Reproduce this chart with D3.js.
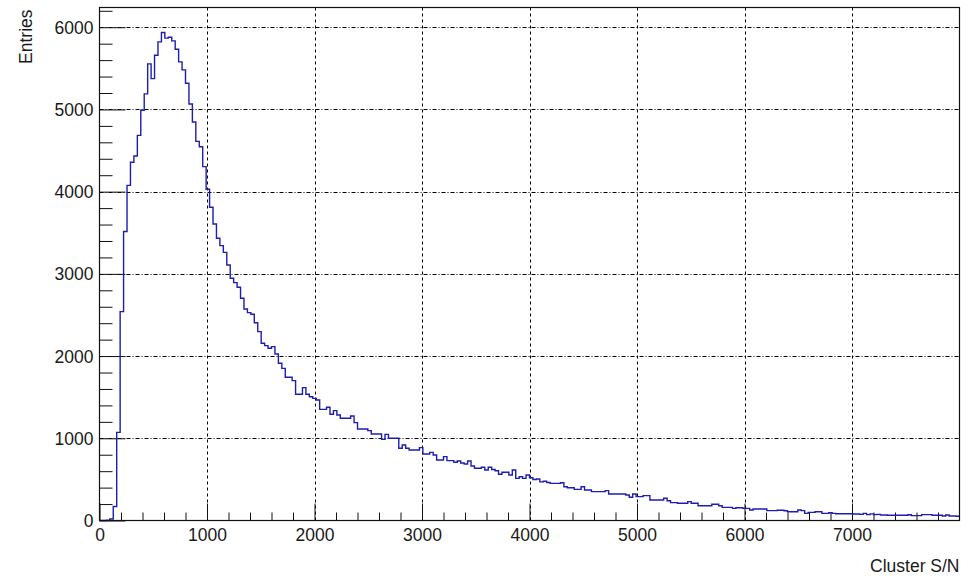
<!DOCTYPE html>
<html>
<head>
<meta charset="utf-8">
<script src="https://cdn.jsdelivr.net/npm/d3@7"></script>
<style>
  html, body { margin: 0; padding: 0; background: #fff; }
  svg { display: block; }
  text { font-family: "Liberation Sans", Arial, sans-serif; fill: #1a1a1a; }
</style>
</head>
<body>
<svg id="chart" width="969" height="576"></svg>
<script>
// Histogram of cluster signal-to-noise: 250 bins of width 32 over [0, 8000)
const binWidth = 32;
const xRange = [0, 8000];
const counts = [
  0, 0, 3, 18, 170, 1072, 2541, 3516, 4076, 4357,
  4434, 4685, 4990, 5189, 5554, 5375, 5660, 5822, 5936, 5867,
  5879, 5834, 5733, 5578, 5481, 5319, 5067, 4848, 4612, 4547,
  4305, 4029, 3810, 3607, 3433, 3343, 3262, 3108, 2946, 2893,
  2837, 2703, 2573, 2528, 2508, 2406, 2297, 2156, 2127, 2095,
  2115, 2026, 1912, 1851, 1742, 1742, 1701, 1535, 1535, 1616,
  1535, 1506, 1486, 1466, 1352, 1352, 1377, 1292, 1336, 1283,
  1243, 1243, 1243, 1271, 1190, 1113, 1113, 1113, 1093, 1052,
  1052, 1052, 987, 1048, 1000, 1000, 1000, 878, 918, 878,
  858, 858, 858, 886, 809, 809, 829, 797, 736, 736,
  777, 728, 728, 708, 724, 700, 687, 724, 663, 635,
  635, 647, 614, 647, 620, 606, 562, 586, 586, 553,
  614, 513, 533, 513, 553, 520, 498, 505, 470, 478,
  462, 452, 452, 452, 460, 411, 399, 399, 379, 379,
  411, 371, 371, 351, 351, 351, 351, 363, 322, 322,
  322, 322, 322, 310, 282, 322, 290, 290, 302, 302,
  249, 249, 249, 249, 270, 241, 217, 217, 209, 209,
  209, 229, 209, 209, 180, 180, 180, 180, 197, 197,
  180, 160, 160, 160, 148, 156, 156, 148, 148, 128,
  140, 140, 140, 140, 120, 120, 120, 125, 125, 118,
  107, 107, 107, 128, 120, 87, 99, 99, 107, 107,
  87, 87, 95, 87, 83, 83, 83, 83, 83, 79,
  79, 75, 87, 71, 80, 71, 75, 67, 67, 63,
  63, 63, 63, 63, 63, 70, 59, 59, 59, 71,
  71, 71, 63, 63, 63, 55, 67, 55, 55, 51
];
const xMajorTicks = [0, 1000, 2000, 3000, 4000, 5000, 6000, 7000];
const yMajorTicks = [0, 1000, 2000, 3000, 4000, 5000, 6000];
const xTitle = "Cluster S/N";
const yTitle = "Entries";

const yMax = 6240;
const frame = { left: 99.5, right: 959.5, top: 7.5, bottom: 520.5 };
const lineColor = "#1d1db0";
const fontSize = 17.5;

const svg = d3.select("#chart");
const x = d3.scaleLinear().domain(xRange).range([frame.left, frame.right]);
const y = d3.scaleLinear().domain([0, yMax]).range([frame.bottom, frame.top]);

// grid
const grid = svg.append("g").attr("stroke", "#000").attr("stroke-width", 1).attr("fill", "none");
grid.selectAll("line.vx").data(xMajorTicks.filter(d => d > 0)).join("line")
  .attr("x1", d => Math.round(x(d)) + 0.5).attr("x2", d => Math.round(x(d)) + 0.5)
  .attr("y1", frame.top).attr("y2", frame.bottom)
  .attr("stroke-dasharray", "3,3");
grid.selectAll("line.hy").data(yMajorTicks.filter(d => d > 0)).join("line")
  .attr("x1", frame.left).attr("x2", frame.right)
  .attr("y1", d => Math.round(y(d)) + 0.5).attr("y2", d => Math.round(y(d)) + 0.5)
  .attr("stroke-dasharray", "4,2,1,2");

// minor tick values (5 subdivisions per major interval)
const xMinor = d3.range(0, xRange[1] + 1, 200).filter(v => v % 1000 !== 0);
const yMinor = d3.range(0, yMax, 200).filter(v => v % 1000 !== 0);

function styleAxis(g) {
  g.select(".domain").remove();
  g.selectAll(".tick line").attr("stroke", "#111").attr("stroke-width", 1);
  g.selectAll("text").attr("font-size", fontSize)
    .attr("font-family", '"Liberation Sans", Arial, sans-serif').attr("fill", "#1a1a1a");
}

// x axis: ticks pointing into the frame
svg.append("g").attr("transform", `translate(0,${frame.bottom})`)
  .call(d3.axisBottom(x).tickValues(xMinor).tickSize(-8).tickFormat(""))
  .call(styleAxis);
svg.append("g").attr("transform", `translate(0,${frame.bottom})`)
  .call(d3.axisBottom(x).tickValues(xMajorTicks).tickSize(-17).tickPadding(4).tickFormat(d3.format("d")))
  .call(styleAxis)
  .call(g => g.selectAll("text").attr("dy", "0.95em").attr("y", 4));

// y axis
svg.append("g").attr("transform", `translate(${frame.left},0)`)
  .call(d3.axisLeft(y).tickValues(yMinor).tickSize(-13).tickFormat(""))
  .call(styleAxis);
svg.append("g").attr("transform", `translate(${frame.left},0)`)
  .call(d3.axisLeft(y).tickValues(yMajorTicks).tickSize(-26).tickPadding(6).tickFormat(d3.format("d")))
  .call(styleAxis)
  .call(g => g.selectAll("text").attr("dy", "0.35em"));

// histogram outline as steps
const pts = [];
counts.forEach((c, i) => {
  const lo = xRange[0] + i * binWidth;
  pts.push([lo, c], [lo + binWidth, c]);
});
svg.append("path")
  .datum(pts)
  .attr("fill", "none")
  .attr("stroke", lineColor)
  .attr("stroke-width", 1.4)
  .attr("stroke-linejoin", "miter")
  .attr("d", d3.line().x(d => x(d[0])).y(d => y(d[1])));

// frame
svg.append("rect")
  .attr("x", frame.left).attr("y", frame.top)
  .attr("width", frame.right - frame.left).attr("height", frame.bottom - frame.top)
  .attr("fill", "none").attr("stroke", "#111").attr("stroke-width", 1.2);

// axis titles
svg.append("text")
  .attr("x", frame.right).attr("y", 572)
  .attr("text-anchor", "end").attr("font-size", fontSize)
  .text(xTitle);
svg.append("text")
  .attr("transform", `translate(32,${frame.top + 2}) rotate(-90)`)
  .attr("text-anchor", "end").attr("font-size", fontSize)
  .text(yTitle);
</script>
</body>
</html>
